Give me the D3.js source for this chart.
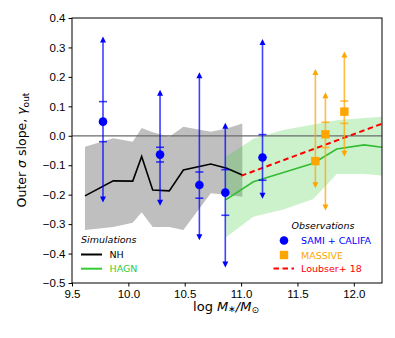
<!DOCTYPE html>
<html>
<head>
<meta charset="utf-8">
<script src="https://cdn.jsdelivr.net/npm/d3@7"></script>
<style>
  body { margin: 0; background: #fff; }
  svg { font-family: "DejaVu Sans", sans-serif; }
</style>
</head>
<body>
<svg id="vis" width="395" height="338"></svg>
<script>
// NH simulation (black line + grey band)
const nhX = [9.615, 9.866, 10.039, 10.118, 10.216, 10.363, 10.488, 10.731, 10.873, 11.011];
const nhY = [-0.204, -0.153, -0.154, -0.070, -0.184, -0.187, -0.116, -0.096, -0.110, -0.133];
const nhHi = [-0.037, -0.008, -0.020, 0.026, 0.012, -0.003, 0.031, 0.014, 0.025, 0.042];
const nhLo = [-0.320, -0.310, -0.295, -0.260, -0.310, -0.310, -0.320, -0.195, -0.200, -0.207];

// HAGN simulation (green line + green band)
const hagnX = [10.866, 11.109, 11.375, 11.641, 11.849, 12.091, 12.25];
const hagnY = [-0.217, -0.156, -0.125, -0.093, -0.045, -0.031, -0.039];
const hagnHi = [-0.071, -0.010, 0.020, 0.038, 0.053, 0.060, 0.065];
const hagnLo = [-0.345, -0.275, -0.250, -0.215, -0.130, -0.130, -0.135];

// SAMI + CALIFA
const blueX = [9.775, 10.281, 10.63, 10.86, 11.19];
const blueY = [0.048, -0.064, -0.167, -0.193, -0.074];
const blueInLo = [-0.020, -0.089, -0.212, -0.270, -0.151];
const blueInHi = [0.116, -0.039, -0.123, -0.115, 0.004];
const blueOutLo = [-0.227, -0.238, -0.355, -0.447, -0.214];
const blueOutHi = [0.337, 0.156, 0.216, 0.044, 0.329];

// MASSIVE
const orangeX = [11.659, 11.748, 11.916];
const orangeY = [-0.086, 0.005, 0.082];
const orangeInLo = [null, -0.040, 0.042];
const orangeInHi = [null, 0.046, 0.118];
const orangeOutLo = [-0.178, -0.254, -0.071];
const orangeOutHi = [0.227, 0.148, 0.286];

// Loubser+ 18
const loubX = [11.0, 12.25];
const loubY = [-0.136, 0.041];

const xTicks = [9.5, 10.0, 10.5, 11.0, 11.5, 12.0];
const yTicks = [-0.5, -0.4, -0.3, -0.2, -0.1, 0.0, 0.1, 0.2, 0.3, 0.4];

const svg = d3.select('#vis');
const L = 72, R = 382, T = 18, B = 283;

const x = d3.scaleLinear().domain([9.5, 12.25]).range([L, R]);
const y = d3.scaleLinear().domain([-0.5, 0.4]).range([B, T]);

svg.append('defs').append('clipPath').attr('id', 'clip')
    .append('rect').attr('x', L).attr('y', T).attr('width', R - L).attr('height', B - T);

const plot = svg.append('g').attr('clip-path', 'url(#clip)');

function zip(xs, ys) {
    return xs.map(function (v, i) { return [v, ys[i]]; });
}

const line = d3.line()
    .x(function (d) { return x(d[0]); })
    .y(function (d) { return y(d[1]); });

const area = d3.area()
    .x(function (d) { return x(d[0]); })
    .y0(function (d) { return y(d[1]); })
    .y1(function (d) { return y(d[2]); });

// bands
plot.append('path')
    .attr('d', area(nhX.map(function (v, i) { return [v, nhLo[i], nhHi[i]]; })))
    .attr('fill', '#bfbfbf');

plot.append('path')
    .attr('d', area(hagnX.map(function (v, i) { return [v, hagnLo[i], hagnHi[i]]; })))
    .attr('fill', '#32cd32')
    .attr('fill-opacity', 0.25);

// zero line
plot.append('line')
    .attr('x1', L).attr('x2', R)
    .attr('y1', y(0)).attr('y2', y(0))
    .attr('stroke', '#6b6b6b')
    .attr('stroke-width', 1.3);

// simulation lines
plot.append('path')
    .attr('d', line(zip(nhX, nhY)))
    .attr('fill', 'none')
    .attr('stroke', 'black')
    .attr('stroke-width', 1.6);

plot.append('path')
    .attr('d', line(zip(hagnX, hagnY)))
    .attr('fill', 'none')
    .attr('stroke', '#33bb33')
    .attr('stroke-width', 1.6);

plot.append('path')
    .attr('d', line(zip(loubX, loubY)))
    .attr('fill', 'none')
    .attr('stroke', 'red')
    .attr('stroke-width', 2)
    .attr('stroke-dasharray', '5.5,3.5');

// error bars with arrows
function errorBars(xs, ys, inLo, inHi, outLo, outHi, color) {
    const g = plot.append('g');
    xs.forEach(function (v, i) {
        const px = x(v);
        g.append('line')
            .attr('x1', px).attr('x2', px)
            .attr('y1', y(outLo[i]) - 4).attr('y2', y(outHi[i]) + 4)
            .attr('stroke', color)
            .attr('stroke-opacity', 0.75)
            .attr('stroke-width', 1.6);
        // up arrow
        const ty = y(outHi[i]);
        g.append('path')
            .attr('d', 'M' + px + ',' + ty + 'L' + (px - 3) + ',' + (ty + 6) + 'L' + (px + 3) + ',' + (ty + 6) + 'Z')
            .attr('fill', color);
        // down arrow
        const by = y(outLo[i]);
        g.append('path')
            .attr('d', 'M' + px + ',' + by + 'L' + (px - 3) + ',' + (by - 6) + 'L' + (px + 3) + ',' + (by - 6) + 'Z')
            .attr('fill', color);
        if (inLo[i] != null) {
            [inLo[i], inHi[i]].forEach(function (c) {
                g.append('line')
                    .attr('x1', px - 4).attr('x2', px + 4)
                    .attr('y1', y(c)).attr('y2', y(c))
                    .attr('stroke', color)
                    .attr('stroke-opacity', 0.75)
                    .attr('stroke-width', 1.6);
            });
        }
    });
    return g;
}

errorBars(blueX, blueY, blueInLo, blueInHi, blueOutLo, blueOutHi, 'blue')
    .selectAll('circle.pt')
    .data(zip(blueX, blueY))
    .enter().append('circle')
    .attr('class', 'pt')
    .attr('cx', function (d) { return x(d[0]); })
    .attr('cy', function (d) { return y(d[1]); })
    .attr('r', 4.3)
    .attr('fill', 'blue');

errorBars(orangeX, orangeY, orangeInLo, orangeInHi, orangeOutLo, orangeOutHi, 'orange')
    .selectAll('rect.pt')
    .data(zip(orangeX, orangeY))
    .enter().append('rect')
    .attr('class', 'pt')
    .attr('x', function (d) { return x(d[0]) - 4.2; })
    .attr('y', function (d) { return y(d[1]) - 4.2; })
    .attr('width', 8.4)
    .attr('height', 8.4)
    .attr('fill', 'orange');

// axes
const fmt = function (d) { return d3.format('.1f')(d).replace('-', '\u2212'); };

svg.append('g')
    .attr('transform', 'translate(0,' + B + ')')
    .call(d3.axisBottom(x).tickValues(xTicks).tickFormat(fmt).tickSize(3.5).tickPadding(3))
    .call(function (g) { g.select('.domain').remove(); })
    .selectAll('text')
    .attr('font-size', '11.5px')
    .attr('fill', 'black');

svg.append('g')
    .attr('transform', 'translate(' + L + ',0)')
    .call(d3.axisLeft(y).tickValues(yTicks).tickFormat(fmt).tickSize(3.5).tickPadding(3))
    .call(function (g) { g.select('.domain').remove(); })
    .selectAll('text')
    .attr('font-size', '11.5px')
    .attr('fill', 'black');

svg.append('rect')
    .attr('x', L).attr('y', T)
    .attr('width', R - L).attr('height', B - T)
    .attr('fill', 'none')
    .attr('stroke', 'black')
    .attr('stroke-width', 1);

// axis labels
const xl = svg.append('text')
    .attr('x', 226).attr('y', 310.5)
    .attr('text-anchor', 'middle')
    .attr('font-size', '13px');
xl.append('tspan').text('log  ');
xl.append('tspan').attr('font-style', 'italic').text('M');
xl.append('tspan').attr('font-size', '9px').attr('font-style', 'italic').attr('dy', 1).text('\u2217');
xl.append('tspan').attr('font-style', 'italic').attr('dy', -1).text('/M');
xl.append('tspan').attr('font-size', '9px').attr('dy', 2).text('\u2299');

const yl = svg.append('text')
    .attr('transform', 'translate(26,150) rotate(-90)')
    .attr('text-anchor', 'middle')
    .attr('font-size', '12.5px');
yl.append('tspan').text('Outer ');
yl.append('tspan').attr('font-style', 'italic').text('\u03c3');
yl.append('tspan').text(' slope, ');
yl.append('tspan').attr('font-style', 'italic').text('\u03b3');
yl.append('tspan').attr('font-size', '9px').attr('dy', 3).text('out');

// legends
const simLegend = [
    {label: 'NH', color: 'black'},
    {label: 'HAGN', color: '#33cc33'}
];
const sl = svg.append('g').attr('font-size', '9.5px');
sl.append('text').attr('x', 81).attr('y', 243).attr('font-style', 'italic').text('Simulations');
simLegend.forEach(function (d, i) {
    const yy = 254.5 + i * 14.2;
    sl.append('line').attr('x1', 81).attr('x2', 102).attr('y1', yy).attr('y2', yy)
        .attr('stroke', d.color).attr('stroke-width', 2);
    sl.append('text').attr('x', 109.5).attr('y', yy + 3.5).attr('fill', d.color).text(d.label);
});

const ol = svg.append('g').attr('font-size', '9.5px');
ol.append('text').attr('x', 323).attr('y', 229).attr('text-anchor', 'middle')
    .attr('font-style', 'italic').text('Observations');
ol.append('circle').attr('cx', 284).attr('cy', 240.5).attr('r', 4.3).attr('fill', 'blue');
ol.append('text').attr('x', 301).attr('y', 244).attr('fill', 'blue').text('SAMI + CALIFA');
ol.append('rect').attr('x', 279.8).attr('y', 250.8).attr('width', 8.4).attr('height', 8.4).attr('fill', 'orange');
ol.append('text').attr('x', 301).attr('y', 258.5).attr('fill', 'orange').text('MASSIVE');
ol.append('line').attr('x1', 273.5).attr('x2', 294).attr('y1', 268.5).attr('y2', 268.5)
    .attr('stroke', 'red').attr('stroke-width', 2).attr('stroke-dasharray', '5.5,3.5');
ol.append('text').attr('x', 301).attr('y', 272).attr('fill', 'red').text('Loubser+ 18');
</script>
</body>
</html>
